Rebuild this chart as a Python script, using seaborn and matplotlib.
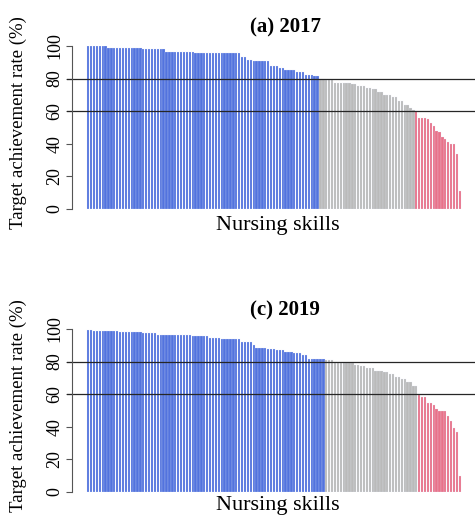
import matplotlib
matplotlib.use('Agg')
import matplotlib.pyplot as plt
import seaborn as sns
import pandas as pd

# target achievement rate (%) per nursing skill, sorted high to low
blue_2017 = [100, 100, 100, 100, 100, 100, 100,
             99, 99, 99, 99, 99, 99, 99,
             98.5, 98.5, 98.5, 98.5, 98.5,
             98, 98, 98, 98, 98, 98, 98, 98,
             96.5, 96.5, 96.5, 96.5, 96.5, 96.5, 96.5, 96.5, 96.5, 96.5,
             95.5, 95.5, 95.5, 95.5, 95.5, 95.5, 95.5, 95.5, 95.5, 95.5,
             95.5, 95.5, 95.5, 95.5, 95.5, 95.5,
             93, 93, 91.5, 91.5,
             90.5, 90.5, 90.5, 90.5, 90.5, 90.5,
             88, 88, 88, 86.5, 86.5,
             85.5, 85.5, 85.5, 85.5,
             84, 84, 84, 82.5, 82.5, 82.5, 81.5, 81.5]
gray_2017 = [79.5, 79.5, 79, 79, 79,
             77.5, 77.5, 77.5, 77.5, 77.5, 77.5,
             76.5, 76.5, 75.5, 75.5, 75.5, 74.5, 74.5, 73.5, 73.5,
             71.5, 71.5, 70, 70, 70, 68.5, 68.5, 66, 66, 64, 64, 62, 60.5]
red_2017 = [60, 56, 56, 56, 55, 53, 51, 48, 47, 44, 43, 41, 40, 40, 34, 11]

blue_2019 = [99.5, 99.5,
             98.8, 98.8, 98.8, 98.8, 98.8, 98.8, 98.8, 98.8, 98.8,
             98.2, 98.2, 98.2, 98.2, 98.2, 98.2, 98.2, 98.2,
             97.5, 97.5, 97.5, 97.5, 97.5,
             96.5, 96.5, 96.5, 96.5, 96.5, 96.5, 96.5, 96.5, 96.5, 96.5, 96.5, 96.5,
             95.5, 95.5, 95.5, 95.5, 95.5, 95.5,
             94.7, 94.7, 94.7, 94.7,
             93.6, 93.6, 93.6, 93.6, 93.6, 93.6, 93.6,
             91.8, 91.8, 91.8, 91.8, 90.2,
             88.3, 88.3, 88.3, 88.3, 87.7, 87.7, 87.7,
             86.9, 86.9, 86.9, 86, 86, 86, 85, 85, 85, 84, 84,
             81.5, 81.5, 81.5, 81.5, 81.5, 81.5]
gray_2019 = [80.7, 80.7, 80.7,
             79, 79, 79, 79, 79, 79, 79,
             77.9, 77.9, 77.3, 77.3, 76.2, 76.2, 76.2,
             74.4, 74.4, 74.4, 73.8, 73.8, 72.3, 72.3,
             70.7, 70.7, 69.3, 69.3, 67.6, 67.6, 65, 65]
red_2019 = [59.4, 58.4, 58.4, 54.7, 54.7, 53.3, 50.6, 49.6, 49.6, 49.6,
            46.5, 43.6, 38.9, 36.9, 9.6]

panels = [('(a) 2017', blue_2017, gray_2017, red_2017),
          ('(c) 2019', blue_2019, gray_2019, red_2019)]
palette = {'high': '#5273de', 'mid': '#bababa', 'low': '#e97189'}

W, H = 475, 515
fig = plt.figure(figsize=(W / 100, H / 100), dpi=100)
plt.rcParams['font.family'] = ['Liberation Serif', 'DejaVu Serif']

# axes boxes in pixels: (y of value 0, y of value 100), x-label offset
boxes = [(209, 46, -0.045), (491.7, 329, -0.028)]

for (title, blue, gray, red), (y0, y100, xl) in zip(panels, boxes):
    ax = fig.add_axes([67 / W, (H - y0) / H, 408 / W, (y0 - y100) / H])
    vals = blue + gray + red
    groups = ['high'] * len(blue) + ['mid'] * len(gray) + ['low'] * len(red)
    df = pd.DataFrame({'skill': range(len(vals)), 'rate': vals, 'group': groups})
    sns.barplot(data=df, x='skill', y='rate', hue='group', palette=palette,
                dodge=False, width=0.8, legend=False, ax=ax, saturation=1,
                edgecolor='#e4eaf8', linewidth=0.15)

    n = len(vals)
    step = (461 - 87) / (n - 0.2)
    ax.set_xlim(-0.4 - (87 - 67) / step, n - 0.6 + (475 - 461) / step)
    ax.set_ylim(0, 100)
    ax.axhline(80, color='#262626', lw=0.9)
    ax.axhline(60, color='#262626', lw=0.9)

    for s in ['top', 'right', 'bottom']:
        ax.spines[s].set_visible(False)
    ax.spines['left'].set_position(('outward', -3.6))
    ax.spines['left'].set_bounds(0, 100)
    ax.spines['left'].set_color('#555555')
    ax.spines['left'].set_linewidth(0.8)
    ax.set_xticks([])
    ax.set_yticks([0, 20, 40, 60, 80, 100])
    ax.tick_params(axis='y', labelrotation=90, length=4.5, width=0.8,
                   color='#555555', labelsize=13, pad=1.5)
    for lab in ax.get_yticklabels():
        lab.set_va('center')
    ax.set_xlabel('')
    ax.set_ylabel('')

    ax.set_title(title, x=0.535, pad=10, fontsize=15, fontweight='bold')
    ax.text(0.517, xl, 'Nursing skills', transform=ax.transAxes,
            ha='center', va='top', fontsize=16)
    ax.text(-0.12, 0.53, 'Target achievement rate (%)', transform=ax.transAxes,
            rotation=90, ha='center', va='center', fontsize=13.5)

plt.savefig('out.png', dpi=100)
plt.close()
